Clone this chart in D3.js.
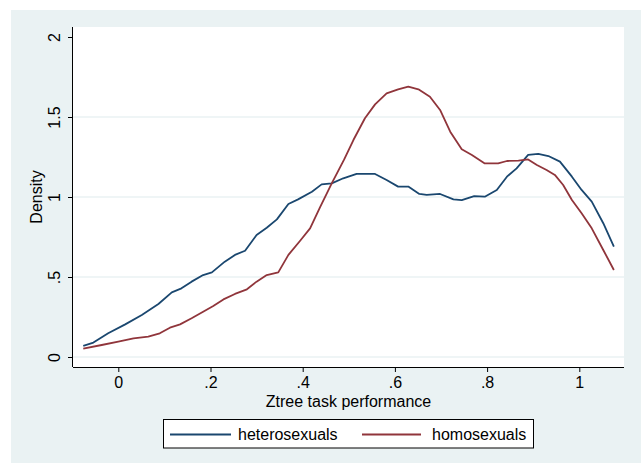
<!DOCTYPE html>
<html>
<head>
<meta charset="utf-8">
<script src="https://cdn.jsdelivr.net/npm/d3@7/dist/d3.min.js"></script>
<style>
  html, body { margin: 0; padding: 0; background: #ffffff; }
  svg { display: block; }
  text { font-family: "Liberation Sans", Arial, Helvetica, sans-serif; }
</style>
</head>
<body>
<div id="chart"></div>
<script>
// ---- Data ----
const heteroX = [-0.076,-0.054,-0.022,0.015,0.051,0.087,0.116,0.137,0.159,0.184,0.203,0.231,0.253,0.275,0.300,0.322,0.344,0.369,0.390,0.420,0.441,0.463,0.488,0.517,0.557,0.582,0.607,0.629,0.653,0.669,0.698,0.727,0.745,0.772,0.795,0.821,0.843,0.864,0.889,0.911,0.933,0.958,0.984,1.005,1.027,1.052,1.075];
const heteroY = [0.070,0.090,0.148,0.204,0.263,0.331,0.404,0.429,0.471,0.512,0.529,0.596,0.638,0.664,0.763,0.808,0.860,0.956,0.985,1.033,1.079,1.085,1.117,1.144,1.144,1.106,1.065,1.065,1.019,1.013,1.019,0.985,0.981,1.006,1.002,1.044,1.127,1.179,1.263,1.269,1.256,1.221,1.127,1.044,0.971,0.836,0.690];

const homoX = [-0.076,-0.036,0.000,0.033,0.065,0.090,0.112,0.134,0.159,0.184,0.206,0.228,0.253,0.279,0.300,0.322,0.347,0.369,0.394,0.416,0.438,0.463,0.490,0.510,0.535,0.557,0.582,0.607,0.629,0.651,0.676,0.698,0.720,0.745,0.767,0.795,0.824,0.843,0.868,0.889,0.908,0.929,0.947,0.965,0.984,1.005,1.027,1.052,1.075];
const homoY = [0.052,0.075,0.096,0.117,0.127,0.148,0.183,0.204,0.242,0.283,0.319,0.360,0.394,0.423,0.471,0.512,0.529,0.638,0.725,0.804,0.939,1.085,1.235,1.356,1.492,1.579,1.648,1.673,1.690,1.673,1.627,1.544,1.408,1.298,1.263,1.210,1.210,1.225,1.227,1.235,1.200,1.169,1.138,1.075,0.981,0.898,0.804,0.669,0.544];

const xTicks = [0, 0.2, 0.4, 0.6, 0.8, 1];
const xTickLabels = ["0", ".2", ".4", ".6", ".8", "1"];
const yTicks = [0, 0.5, 1, 1.5, 2];
const yTickLabels = ["0", ".5", "1", "1.5", "2"];
const seriesNames = ["heterosexuals", "homosexuals"];
const seriesColors = ["#1a476f", "#90353b"];

// ---- Layout ----
const W = 641, H = 463;
const bgColor = "#eaf2f3";
const plot = { left: 73, right: 624, top: 27, bottom: 367 };

const svg = d3.select("#chart").append("svg")
  .attr("width", W).attr("height", H);

svg.append("rect").attr("x", 0).attr("y", 0).attr("width", W).attr("height", H).attr("fill", "#ffffff");
svg.append("rect").attr("x", 11).attr("y", 10).attr("width", W - 11).attr("height", H - 10).attr("fill", bgColor);
svg.append("rect").attr("x", plot.left).attr("y", plot.top)
  .attr("width", plot.right - plot.left).attr("height", plot.bottom - plot.top).attr("fill", "#ffffff");

const x = d3.scaleLinear().domain([0, 1]).range([118.3, 579.3]);
const y = d3.scaleLinear().domain([0, 2]).range([357, 37]);

// gridlines
svg.append("g").selectAll("line").data(yTicks.filter(d => d < 2)).join("line")
  .attr("x1", plot.left).attr("x2", plot.right)
  .attr("y1", d => y(d)).attr("y2", d => y(d))
  .attr("stroke", bgColor).attr("stroke-width", 1.5);

// series
const series = [
  { name: seriesNames[0], xs: heteroX, ys: heteroY, color: seriesColors[0] },
  { name: seriesNames[1], xs: homoX, ys: homoY, color: seriesColors[1] }
];
const line = d3.line().x(d => x(d[0])).y(d => y(d[1]));
series.forEach(s => {
  const pts = s.xs.map((v, i) => [v, s.ys[i]]);
  svg.append("path").datum(pts)
    .attr("d", line).attr("fill", "none")
    .attr("stroke", s.color).attr("stroke-width", 1.8)
    .attr("stroke-linejoin", "round");
});

// axes
const xAxis = d3.axisBottom(x).tickValues(xTicks)
  .tickFormat((d, i) => xTickLabels[i]).tickSize(5).tickSizeOuter(0).tickPadding(5);
const gx = svg.append("g").attr("transform", `translate(0,${plot.bottom})`).call(xAxis);
gx.select(".domain").attr("d", `M${plot.left},0.5H${plot.right}`).attr("stroke", "#000");
gx.selectAll(".tick line").attr("stroke", "#000");
gx.selectAll(".tick text").attr("font-size", 16).attr("fill", "#000")
  .attr("font-family", "'Liberation Sans', Arial, sans-serif");

const yAxis = d3.axisLeft(y).tickValues(yTicks)
  .tickFormat((d, i) => yTickLabels[i]).tickSize(5).tickSizeOuter(0);
const gy = svg.append("g").attr("transform", `translate(${plot.left},0)`).call(yAxis);
gy.select(".domain").attr("d", `M-0.5,${plot.top}V${plot.bottom}`).attr("stroke", "#000");
gy.selectAll(".tick line").attr("stroke", "#000");
gy.selectAll(".tick text")
  .attr("x", null).attr("dy", null)
  .attr("text-anchor", "middle")
  .attr("transform", "translate(-13,0) rotate(-90)")
  .attr("font-size", 16).attr("fill", "#000")
  .attr("font-family", "'Liberation Sans', Arial, sans-serif");

// axis titles
svg.append("text").attr("x", (plot.left + plot.right) / 2).attr("y", 407)
  .attr("text-anchor", "middle").attr("font-size", 16).attr("fill", "#000")
  .text("Ztree task performance");
svg.append("text").attr("transform", `translate(42,197) rotate(-90)`)
  .attr("text-anchor", "middle").attr("font-size", 16).attr("fill", "#000")
  .text("Density");

// legend
const lg = svg.append("g");
lg.append("rect").attr("x", 163.5).attr("y", 419.5).attr("width", 370).attr("height", 28.5)
  .attr("fill", "#ffffff").attr("stroke", "#000").attr("stroke-width", 1);
const legendItems = [
  { x1: 170, x2: 231, tx: 238 },
  { x1: 362, x2: 421, tx: 432 }
];
legendItems.forEach((it, i) => {
  lg.append("line").attr("x1", it.x1).attr("x2", it.x2).attr("y1", 434.5).attr("y2", 434.5)
    .attr("stroke", seriesColors[i]).attr("stroke-width", 1.8);
  lg.append("text").attr("x", it.tx).attr("y", 440).attr("font-size", 16).attr("fill", "#000")
    .text(seriesNames[i]);
});
</script>
</body>
</html>
